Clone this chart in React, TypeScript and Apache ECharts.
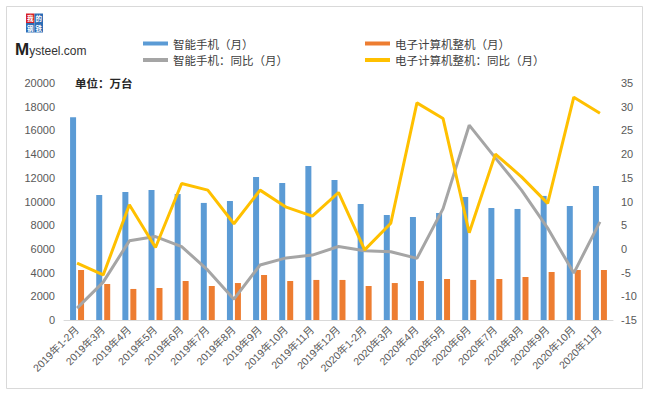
import React, { useEffect, useRef } from "react";
import * as echarts from "echarts";

const categories = [
  "2019年1-2月", "2019年3月", "2019年4月", "2019年5月", "2019年6月", "2019年7月",
  "2019年8月", "2019年9月", "2019年10月", "2019年11月", "2019年12月",
  "2020年1-2月", "2020年3月", "2020年4月", "2020年5月", "2020年6月", "2020年7月",
  "2020年8月", "2020年9月", "2020年10月", "2020年11月",
];

const phoneOutput = [
  17100, 10550, 10800, 10970, 10630, 9880, 10040, 12070, 11560, 13000, 11820,
  9790, 8860, 8690, 9030, 10380, 9450, 9370, 10470, 9620, 11310,
];

const computerOutput = [
  4220, 3040, 2620, 2700, 3290, 2870, 3120, 3800, 3290, 3380, 3380,
  2870, 3120, 3290, 3460, 3380, 3460, 3630, 4050, 4220, 4220,
];

const phoneYoY = [
  -12.5, -7.0, 1.7, 2.6, 0.5, -4.5, -10.6, -3.4, -1.9, -1.3, 0.5,
  -0.4, -0.6, -2.0, 8.5, 26.1, 19.2, 12.4, 4.4, -5.1, 5.7,
];

const computerYoY = [
  -3.0, -5.5, 9.3, 0.3, 13.8, 12.4, 5.3, 12.4, 8.8, 6.9, 11.9,
  -0.2, 5.4, 30.8, 27.5, 3.4, 20.0, 15.2, 9.6, 32.0, 28.6,
];

const leftTicks = { min: 0, max: 20000, interval: 2000 };
const rightTicks = { min: -15, max: 35, interval: 5 };

const names = {
  phone: "智能手机（月）",
  computer: "电子计算机整机（月）",
  phoneYoY: "智能手机：同比（月）",
  computerYoY: "电子计算机整机：同比（月）",
};

const FONT = "'Liberation Sans', 'Noto Sans CJK SC', sans-serif";
const CJK = "'Noto Sans CJK SC', 'Liberation Sans', sans-serif";

export default function App() {
  const ref = useRef<HTMLDivElement>(null);

  useEffect(() => {
    if (!ref.current) return;
    const chart = echarts.init(ref.current, undefined, { renderer: "svg" });
    const legendText = { fontSize: 11.5, color: "#404040", fontFamily: CJK, lineHeight: 13 };
    const logoFont = "bold 6.5px 'Noto Sans CJK SC'";
    const logoCell = (x: number, y: number, ch: string, fill: string) => [
      { type: "rect", shape: { x, y, width: 8.5, height: 9.5 }, style: { fill } },
      {
        type: "text",
        x: x + 4.25,
        y: y + 4.75,
        style: { text: ch, fill: "#fff", font: logoFont, lineHeight: 7, align: "center", verticalAlign: "middle" },
      },
    ];
    chart.setOption({
      animation: false,
      backgroundColor: "#ffffff",
      textStyle: { fontFamily: FONT },
      grid: { left: 64, right: 36, top: 83, bottom: 80, containLabel: false },
      legend: [
        {
          orient: "vertical",
          left: 143,
          top: 37,
          padding: 0,
          itemWidth: 25,
          itemHeight: 4,
          itemGap: 3.5,
          textStyle: legendText,
          data: [
            { name: names.phone, icon: "rect" },
            { name: names.phoneYoY, icon: "rect" },
          ],
        },
        {
          orient: "vertical",
          left: 365,
          top: 37,
          padding: 0,
          itemWidth: 25,
          itemHeight: 4,
          itemGap: 3.5,
          textStyle: legendText,
          data: [
            { name: names.computer, icon: "rect" },
            { name: names.computerYoY, icon: "rect" },
          ],
        },
      ],
      xAxis: {
        type: "category",
        data: categories,
        axisLine: { lineStyle: { color: "#d9d9d9", width: 1 } },
        axisTick: { show: false },
        axisLabel: {
          rotate: 45,
          interval: 0,
          fontSize: 10.5,
          color: "#595959",
          fontFamily: FONT,
          margin: 8,
        },
      },
      yAxis: [
        {
          type: "value",
          min: leftTicks.min,
          max: leftTicks.max,
          interval: leftTicks.interval,
          splitLine: { show: false },
          axisLine: { show: false },
          axisTick: { show: false },
          axisLabel: {
            fontSize: 11,
            color: "#595959",
            fontFamily: FONT,
            margin: 9,
            formatter: (v: number) => String(v),
          },
        },
        {
          type: "value",
          min: rightTicks.min,
          max: rightTicks.max,
          interval: rightTicks.interval,
          splitLine: { show: false },
          axisLine: { show: false },
          axisTick: { show: false },
          axisLabel: {
            fontSize: 11,
            color: "#595959",
            fontFamily: FONT,
            margin: 8,
            formatter: (v: number) => String(v),
          },
        },
      ],
      series: [
        {
          name: names.phone,
          type: "bar",
          data: phoneOutput,
          barWidth: 6,
          barGap: "33%",
          itemStyle: { color: "#5B9BD5" },
        },
        {
          name: names.computer,
          type: "bar",
          data: computerOutput,
          barWidth: 6,
          barGap: "33%",
          itemStyle: { color: "#ED7D31" },
        },
        {
          name: names.phoneYoY,
          type: "line",
          yAxisIndex: 1,
          data: phoneYoY,
          symbol: "none",
          lineStyle: { color: "#A5A5A5", width: 3 },
          itemStyle: { color: "#A5A5A5" },
        },
        {
          name: names.computerYoY,
          type: "line",
          yAxisIndex: 1,
          data: computerYoY,
          symbol: "none",
          lineStyle: { color: "#FFC000", width: 3 },
          itemStyle: { color: "#FFC000" },
        },
      ],
      graphic: [
        {
          type: "rect",
          shape: { x: 6.5, y: 6.5, width: 636, height: 382 },
          style: { fill: "none", stroke: "#d9d9d9", lineWidth: 1 },
          silent: true,
        },
        ...logoCell(26, 13.5, "我", "#d71f26"),
        ...logoCell(34.5, 13.5, "的", "#2d6cb5"),
        ...logoCell(26, 23, "钢", "#2d6cb5"),
        ...logoCell(34.5, 23, "铁", "#2d6cb5"),
        {
          type: "text",
          x: 15,
          y: 49,
          style: {
            text: "{m|M}{r|ysteel.com}",
            verticalAlign: "middle",
            rich: {
              m: { fontSize: 17, fontFamily: FONT, fill: "#222", fontWeight: "bold" },
              r: { fontSize: 12, fontFamily: FONT, fill: "#333", padding: [3, 0, 0, 0] },
            },
          },
        },
        {
          type: "text",
          x: 75,
          y: 83,
          style: {
            text: "单位：万台",
            fill: "#262626",
            font: "bold 11.5px 'Noto Sans CJK SC'",
            verticalAlign: "middle",
          },
        },
      ],
    });
    return () => chart.dispose();
  }, []);

  return (
    <div
      ref={ref}
      style={{ position: "fixed", left: 0, top: 0, width: 649, height: 400 }}
    />
  );
}
